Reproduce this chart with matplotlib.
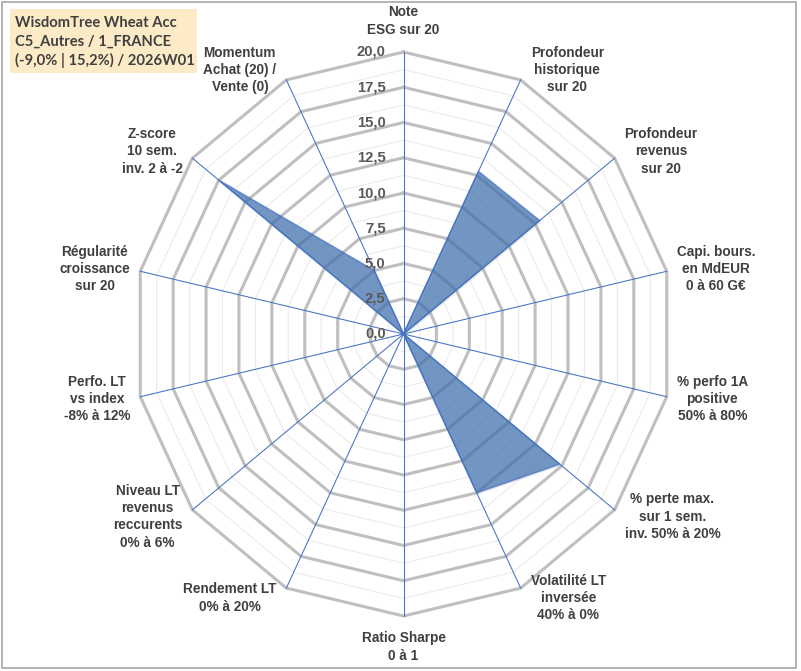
import numpy as np
import matplotlib
matplotlib.use("Agg")
import matplotlib.pyplot as plt
from matplotlib.patches import Rectangle

# libellés des axes (sens horaire depuis le haut)
categories = [
    "Note\nESG sur 20",
    "Profondeur\nhistorique\nsur 20",
    "Profondeur\nrevenus\nsur 20",
    "Capi. bours.\nen MdEUR\n0 à 60 G€",
    "% perfo 1A\npositive\n50% à 80%",
    "% perte max.\nsur 1 sem.\ninv. 50% à 20%",
    "Volatilité LT\ninversée\n40% à 0%",
    "Ratio Sharpe\n0 à 1",
    "Rendement LT\n0% à 20%",
    "Niveau LT\nrevenus\nreccurents\n0% à 6%",
    "Perfo. LT\nvs index\n-8% à 12%",
    "Régularité\ncroissance\nsur 20",
    "Z-score\n10 sem.\ninv. 2 à -2",
    "Momentum\nAchat (20) /\nVente (0)",
]
scores = [0, 12.8, 12.9, 0, 0, 14.8, 12.5, 0, 0, 0, 0, 0, 17.5, 5.0]
r_ticks = [0, 2.5, 5, 7.5, 10, 12.5, 15, 17.5, 20]
r_minor = [1.25, 3.75, 6.25, 8.75, 11.25, 13.75, 16.25, 18.75]
titre = "WisdomTree Wheat Acc\nC5_Autres / 1_FRANCE\n(-9,0% | 15,2%) / 2026W01"

W, H = 801, 671
def px(x):
    return x / W
def py(y):
    return 1 - y / H

fig = plt.figure(figsize=(W / 100, H / 100), dpi=100)
# centre (403.5, 334), rayon 270 px en x, 282 px en y
ax = fig.add_axes([px(133.5), py(616), 540 / W, 564 / H])
ax.set_xlim(-20, 20)
ax.set_ylim(-20, 20)
ax.axis("off")

n = len(categories)
theta = np.arange(n) * 2 * np.pi / n
ux = np.sin(theta)
uy = np.cos(theta)

def ring(r, **kw):
    xs = np.append(ux * r, ux[0] * r)
    ys = np.append(uy * r, uy[0] * r)
    ax.plot(xs, ys, clip_on=False, **kw)

for r in r_minor:
    ring(r, color="#EBEBEB", lw=0.8, zorder=1)
for r in r_ticks[1:]:
    ring(r, color="#BFBFBF", lw=2.2, zorder=2, solid_joinstyle="miter")

for i in range(n):
    ax.plot([0, ux[i] * 20], [0, uy[i] * 20], color="#4472C4", lw=0.75, zorder=3, clip_on=False)

vals = np.array(scores)
xs = np.append(ux * vals, ux[0] * vals[0])
ys = np.append(uy * vals, uy[0] * vals[0])
# ombre légère sous la série
ax.fill(xs + 0.12, ys - 0.12, facecolor="#9A9A9A", alpha=0.18, edgecolor="none", zorder=3.5)
ax.fill(xs, ys, facecolor="#3A6CAD", alpha=0.68, edgecolor="#4472C4", lw=1.2, zorder=4)

for r in r_ticks:
    ax.annotate(f"{r:.1f}".replace(".", ","), xy=(0, r), xytext=(-18, 0),
                textcoords="offset pixels", ha="right", va="center",
                fontsize=10.7, fontweight="bold", color="#595959",
                family=["Liberation Sans", "DejaVu Sans"], zorder=6)

for i, lab in enumerate(categories):
    if ux[i] > 0.1:
        ha, dx, dy = "left", 10, uy[i] * 11
    elif ux[i] < -0.1:
        ha, dx, dy = "right", -10, uy[i] * 11
    else:
        ha, dx, dy = "center", 0, uy[i] * 31
    ax.annotate(lab, xy=(ux[i] * 20, uy[i] * 20), xytext=(dx, dy),
                textcoords="offset pixels", ha=ha, va="center", multialignment="center",
                fontsize=9.8, fontweight="bold", color="#404040", linespacing=1.3,
                family=["Liberation Sans", "DejaVu Sans"], annotation_clip=False)

# cadre du titre
fig.patches.append(Rectangle((px(10), py(73)), 187 / W, 64 / H, transform=fig.transFigure,
                             facecolor="#FCEBC6", edgecolor="none", zorder=0))
fig.text(px(15), py(42), titre, ha="left", va="center", fontsize=10.6, fontweight="bold",
         color="#404040", linespacing=1.42, family=["Lato", "DejaVu Sans"])

# bordure de l'image
fig.patches.append(Rectangle((px(2), py(668)), 794 / W, 666 / H, transform=fig.transFigure,
                             facecolor="none", edgecolor="#A6A6A6", lw=1.2))

fig.savefig("out.png", dpi=100, facecolor="white")
